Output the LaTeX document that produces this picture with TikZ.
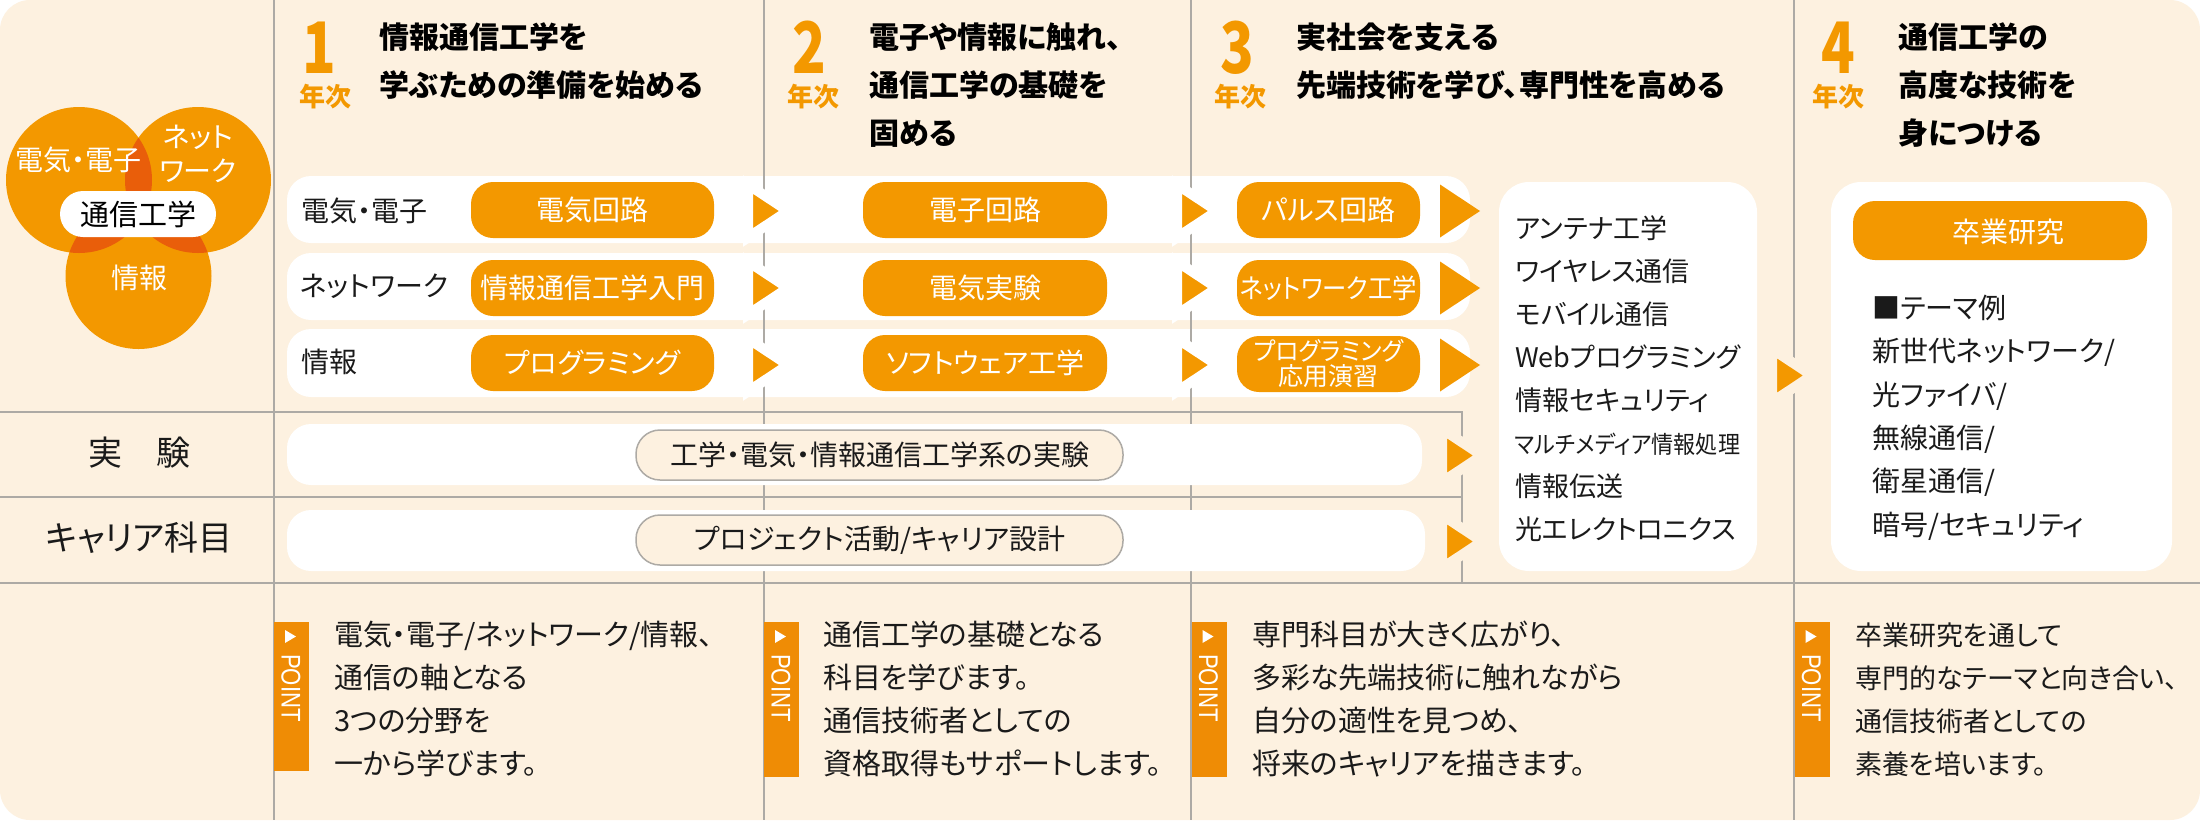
\documentclass[tikz,border=0pt]{standalone}
\usepackage{fontspec}
\setmainfont{Noto Sans CJK JP}[RawFeature={+palt}]
\newfontfamily\fullw{Noto Sans CJK JP}
\newfontfamily\latinf{Liberation Sans}
\definecolor{bgc}{HTML}{FDF1E0}
\definecolor{org}{HTML}{F39800}
\definecolor{ptc}{HTML}{EF8C05}
\definecolor{ovl}{HTML}{E95E0A}
\definecolor{linec}{HTML}{ADAAA5}
\definecolor{inkc}{HTML}{1A1A1A}
\newcommand{\ST}{\rule[-.06em]{0pt}{.88em}}
\newcommand{\BS}{\rule{0pt}{30pt}}
\newcommand{\Tri}[3]{\draw[tri,draw=#3] (#1,#2-26.5) -- (#1+40,#2) -- (#1,#2+26.5) -- cycle;}
\newcommand{\Point}[3]{%
  \node[pointbox,minimum height=#3-622] (#2) at (#1+17.5,{(622+#3)/2}) {};
  \fill[white] (#1+11,630) -- (#1+22,636.5) -- (#1+11,643) -- cycle;
  \node[pointtxt] (#2t) at (#1+17,688) {\scalebox{.82}[1]{POINT}};}
\tikzset{
  x=1pt,y=-1pt,
  rule/.style={draw=linec,line width=2pt},
  whiterow/.style={fill=white,rounded corners=24pt},
  lab/.style={inner sep=0pt,text=inkc,execute at begin node=\ST},
  fs/.style={font=\fontsize{#1}{43}\selectfont},
  pill/.style={fill=org,rounded corners=22pt,minimum width=#1,minimum height=56pt,inner sep=0pt,text=white,execute at begin node=\ST,font=\fontsize{28}{43}\selectfont},
  outpill/.style={fill=bgc,draw=linec,line width=1.5pt,rounded corners=24pt,minimum width=487pt,minimum height=50pt,inner sep=0pt,text=inkc,execute at begin node=\ST,font=\fontsize{28}{43}\selectfont},
  tri/.style={fill=org,line width=10pt,line join=miter},
  block/.style={anchor=north west,align=left,inner sep=0pt,text=inkc,font=\fontsize{29}{43}\selectfont},
  head/.style={anchor=north west,align=left,inner sep=0pt,text=black,font=\fontsize{30}{48}\selectfont\bfseries},
  num/.style={inner sep=0pt,text=org,font=\fontsize{71}{71}\selectfont\bfseries,execute at begin node=\ST},
  nen/.style={inner sep=0pt,text=org,font=\fontsize{26}{26}\selectfont\bfseries,execute at begin node=\ST},
  pointbox/.style={fill=ptc,minimum width=35pt,inner sep=0pt},
  pointtxt/.style={rotate=-90,inner sep=0pt,text=white,font=\latinf\fontsize{27}{27}\selectfont},
  venn/.style={circle,minimum size=146pt,inner sep=0pt},
  venntxt/.style={inner sep=0pt,text=white,align=center,font=\fontsize{28}{34}\selectfont},
}
\begin{document}
\begin{tikzpicture}
\useasboundingbox (0,0) rectangle (2200,820);
\fill[white] (0,0) rectangle (2200,820);
\fill[bgc,rounded corners=30pt] (0,0) rectangle (2200,820);
% rows 1-3 (lines run over them)
\fill[whiterow] (287,176) rectangle (1470,243);
\fill[whiterow] (287,253) rectangle (1470,320);
\fill[whiterow] (287,329) rectangle (1470,397);
% rules
\draw[rule] (274,0) -- (274,820);
\draw[rule] (764,0) -- (764,820);
\draw[rule] (1191,0) -- (1191,820);
\draw[rule] (1794,0) -- (1794,820);
\draw[rule] (0,412) -- (1462,412) -- (1462,583);
\draw[rule] (0,497) -- (1462,497);
\draw[rule] (0,583) -- (2200,583);
% rows 4-5
\fill[whiterow] (287,424) rectangle (1422,485);
\fill[whiterow] (287,510) rectangle (1425,571);
% venn
\begin{scope}
\fill[org] (79,180) circle (73);
\fill[org] (198,180) circle (73);
\fill[org] (138.5,276) circle (73);
\begin{scope}\clip (79,180) circle (73); \fill[ovl] (198,180) circle (73); \fill[ovl] (138.5,276) circle (73);\end{scope}
\begin{scope}\clip (198,180) circle (73); \fill[ovl] (138.5,276) circle (73);\end{scope}
\end{scope}
\node[fill=white,rounded corners=23pt,minimum width=156pt,minimum height=46pt,inner sep=0pt,text=black,font=\fontsize{29}{34}\selectfont,execute at begin node=\ST] (core) at (138,214) {通信工学};
\node[venntxt] (v1) at (79,160) {電気・電子};
\node[venntxt] (v2) at (198,154) {ネット\\ワーク};
\node[venntxt] (v3) at (139,278) {情報};
% year headers
\node[num] (n1) at (319,47) {\scalebox{.78}[1]{1}};
\node[nen] (y1) at (325,97) {年次};
\node[head] (h1) at (379,18) {\BS 情報通信工学を\\学ぶための準備を始める};
\node[num] (n2) at (809,47) {\scalebox{.78}[1]{2}};
\node[nen] (y2) at (813,97) {年次};
\node[head] (h2) at (869,18) {\BS 電子や情報に触れ、\\通信工学の基礎を\\固める};
\node[num] (n3) at (1237,47) {\scalebox{.78}[1]{3}};
\node[nen] (y3) at (1240,97) {年次};
\node[head] (h3) at (1296,18) {\BS 実社会を支える\\先端技術を学び、専門性を高める};
\node[num] (n4) at (1838,47) {\scalebox{.78}[1]{4}};
\node[nen] (y4) at (1838,97) {年次};
\node[head] (h4) at (1898,18) {\BS 通信工学の\\高度な技術を\\身につける};
% row labels
\node[lab,fs=28,anchor=west] (r1) at (301,211) {電気・電子};
\node[lab,fs=28,anchor=west] (r2) at (300,286) {ネットワーク};
\node[lab,fs=28,anchor=west] (r3) at (301,362) {情報};
\node[lab,fs=34] (r4) at (139,453) {実　験};
\node[lab,fs=34] (r5) at (139,538) {キャリア科目};
% pills
\node[pill=243pt] (a1) at (592.5,210) {電気回路};
\node[pill=243pt] (a2) at (592.5,288) {情報通信工学入門};
\node[pill=243pt] (a3) at (592.5,363) {プログラミング};
\node[pill=244pt] (b1) at (985,210) {電子回路};
\node[pill=244pt] (b2) at (985,288) {電気実験};
\node[pill=244pt] (b3) at (985,363) {ソフトウェア工学};
\node[pill=183pt] (c1) at (1328.5,210) {パルス回路};
\node[pill=183pt,font=\fontsize{27}{43}\selectfont] (c2) at (1328.5,288) {\scalebox{.9}[1]{ネットワーク工学}};
\node[pill=183pt,align=center,font=\fontsize{25}{25}\selectfont,execute at begin node={}] (c3) at (1328.5,364) {\scalebox{.95}[1]{プログラミング}\\応用演習};
\node[outpill] (p1) at (879.5,455) {工学・電気・情報通信工学系の実験};
\node[outpill] (p2) at (879.5,540) {プロジェクト活動/キャリア設計};
% arrows
\Tri{748}{211}{white}\Tri{748}{288}{white}\Tri{748}{365}{white}
\Tri{1177}{211}{white}\Tri{1177}{288}{white}\Tri{1177}{365}{white}
\foreach \yy in {211,288,365}{\fill[org] (1440,\yy-26.5) -- (1480,\yy) -- (1440,\yy+26.5) -- cycle;}
\Tri{1442}{455.5}{bgc}\Tri{1442}{541.5}{bgc}
\Tri{1772}{375.5}{bgc}
% centre list
\node[fill=white,rounded corners=30pt,minimum width=258pt,minimum height=389pt,inner sep=0pt] (lst) at (1628,376.5) {};
\node[block,font=\fontsize{27}{43}\selectfont] (lstt) at (1515,208) {\BS アンテナ工学\\ワイヤレス通信\\モバイル通信\\Webプログラミング\\情報セキュリティ\\{\fontsize{24}{43}\selectfont\scalebox{.92}[1]{マルチメディア情報処理}}\\情報伝送\\光エレクトロニクス};
% right box
\node[fill=white,rounded corners=30pt,minimum width=341pt,minimum height=389pt,inner sep=0pt] (rbox) at (2001.5,376.5) {};
\node[fill=org,rounded corners=22pt,minimum width=294pt,minimum height=59pt,inner sep=0pt] (ru) at (2000,230.5) {};
\node[inner sep=0pt,text=white,font=\fontsize{28}{43}\selectfont,execute at begin node=\ST] (rut) at (2008,232) {卒業研究};
\node[block,font=\fontsize{28}{43.4}\selectfont] (rtxt) at (1872,288) {\BS ■テーマ例\\新世代ネットワーク/\\光ファイバ/\\無線通信/\\衛星通信/\\暗号/セキュリティ};
% point blocks
\Point{274}{pa}{771}
\Point{764}{pb}{777}
\Point{1191.5}{pc}{777}
\Point{1794.5}{pd}{777}
\node[block] (ta) at (334,615) {\BS 電気・電子/ネットワーク/情報、\\通信の軸となる\\3つの分野を\\一から学びます。};
\node[block] (tb) at (823,615) {\BS 通信工学の基礎となる\\科目を学びます。\\通信技術者としての\\資格取得もサポートします。};
\node[block] (tc) at (1252,615) {\BS 専門科目が大きく広がり、\\多彩な先端技術に触れながら\\自分の適性を見つめ、\\将来のキャリアを描きます。};
\node[block,font=\fontsize{27}{43}\selectfont] (td) at (1855,615) {\BS 卒業研究を通して\\専門的なテーマと向き合い、\\通信技術者としての\\素養を培います。};
\end{tikzpicture}
\end{document}
